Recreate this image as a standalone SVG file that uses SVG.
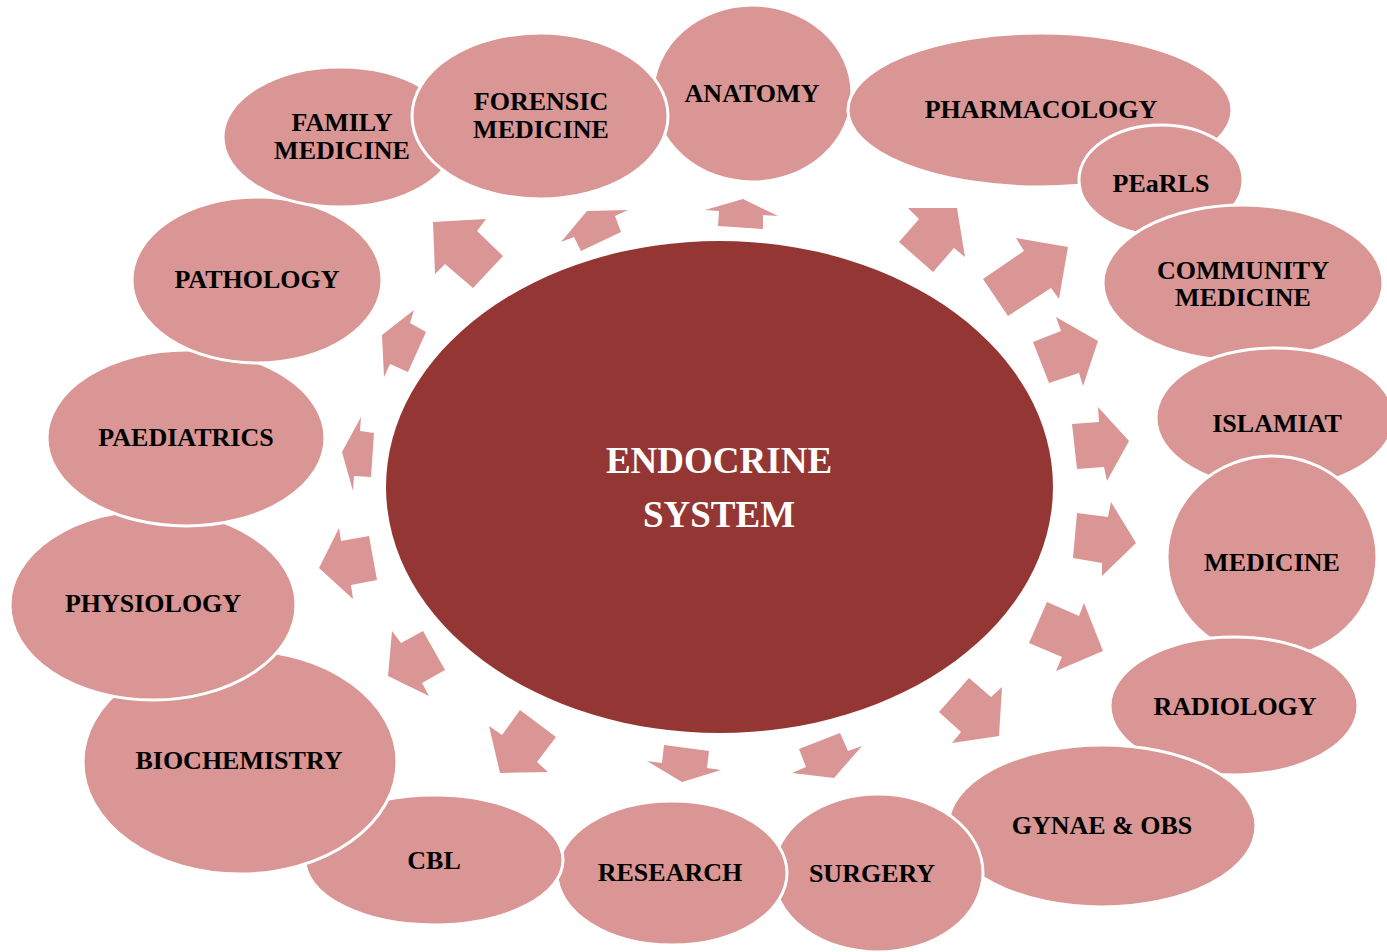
<svg xmlns="http://www.w3.org/2000/svg" width="1387" height="952" viewBox="0 0 1387 952">
  <style>
    .node { fill: #D99694; stroke: #FFFFFF; stroke-width: 3; }
    .lbl { font-family: "Liberation Serif", "Times New Roman", serif; font-weight: bold; font-size: 26px; fill: #000000; text-anchor: middle; }
    .arrow { fill: #D99694; stroke: none; }
    .hub { fill: #943634; }
    .hublbl { font-family: "Liberation Serif", "Times New Roman", serif; font-weight: bold; font-size: 37px; fill: #FFFFFF; text-anchor: middle; }
  </style>
  <rect width="1387" height="952" fill="#FFFFFF"/>

  <g id="node-anatomy"><ellipse class="node" cx="752.5" cy="93.5" rx="99.5" ry="88.5"/><text class="lbl" x="752" y="102">ANATOMY</text></g>
  <g id="node-pharmacology"><ellipse class="node" cx="1040" cy="110" rx="192" ry="77"/><text class="lbl" x="1041" y="118">PHARMACOLOGY</text></g>
  <g id="node-pearls"><ellipse class="node" cx="1161" cy="180" rx="82" ry="55"/><text class="lbl" x="1161" y="192">PEaRLS</text></g>
  <g id="node-community"><ellipse class="node" cx="1243" cy="283" rx="140" ry="78"/><text class="lbl" x="1243" y="279">COMMUNITY</text><text class="lbl" x="1243" y="306">MEDICINE</text></g>
  <g id="node-islamiat"><ellipse class="node" cx="1275" cy="418" rx="119" ry="70"/><text class="lbl" x="1277" y="432">ISLAMIAT</text></g>
  <g id="node-medicine"><ellipse class="node" cx="1272" cy="557" rx="105" ry="101"/><text class="lbl" x="1272" y="571">MEDICINE</text></g>
  <g id="node-radiology"><ellipse class="node" cx="1234" cy="706" rx="124" ry="69"/><text class="lbl" x="1235" y="715">RADIOLOGY</text></g>
  <g id="node-gynae"><ellipse class="node" cx="1102" cy="826" rx="154" ry="81"/><text class="lbl" x="1102" y="834">GYNAE &amp; OBS</text></g>
  <g id="node-surgery"><ellipse class="node" cx="878" cy="873" rx="105" ry="79"/><text class="lbl" x="872" y="882">SURGERY</text></g>
  <g id="node-research"><ellipse class="node" cx="672" cy="873" rx="115" ry="72"/><text class="lbl" x="670" y="881">RESEARCH</text></g>
  <g id="node-cbl"><ellipse class="node" cx="434" cy="860" rx="129" ry="65"/><text class="lbl" x="434" y="869">CBL</text></g>
  <g id="node-biochemistry"><ellipse class="node" cx="240" cy="762" rx="157" ry="112"/><text class="lbl" x="239" y="769">BIOCHEMISTRY</text></g>
  <g id="node-physiology"><ellipse class="node" cx="153" cy="605" rx="143" ry="95"/><text class="lbl" x="153" y="612">PHYSIOLOGY</text></g>
  <g id="node-paediatrics"><ellipse class="node" cx="186" cy="438" rx="139" ry="88"/><text class="lbl" x="186" y="446">PAEDIATRICS</text></g>
  <g id="node-pathology"><ellipse class="node" cx="257" cy="280" rx="125" ry="83"/><text class="lbl" x="257" y="288">PATHOLOGY</text></g>
  <g id="node-family"><ellipse class="node" cx="340" cy="137" rx="117" ry="70"/><text class="lbl" x="342" y="131">FAMILY</text><text class="lbl" x="342" y="159">MEDICINE</text></g>
  <g id="node-forensic"><ellipse class="node" cx="540" cy="116" rx="128" ry="83"/><text class="lbl" x="541" y="110">FORENSIC</text><text class="lbl" x="541" y="138">MEDICINE</text></g>

  <g id="connectors">
    <polygon class="arrow" points="433,222 486,219 477,231 503,256 473,288 445,264 435,274"/>
    <polygon class="arrow" points="561,242 587,211 628,210 615,216 621,232 581,251 574,237"/>
    <polygon class="arrow" points="705,210 743,199 778,216 763,215 763,229 718,226 719,211"/>
    <polygon class="arrow" points="908,208 957,208 965,257 954,248 933,272 899,242 919,219"/>
    <polygon class="arrow" points="1016,238 1068,247 1059,299 1051,288 1008,316 983,279 1024,251"/>
    <polygon class="arrow" points="1056,317 1098,341 1083,386 1079,373 1049,383 1033,342 1061,331"/>
    <polygon class="arrow" points="1098,407 1129,441 1107,481 1104,467 1077,469 1072,424 1099,422"/>
    <polygon class="arrow" points="1111,502 1136,543 1102,576 1102,563 1073,558 1077,513 1108,517"/>
    <polygon class="arrow" points="1084,603 1103,651 1056,671 1062,657 1029,643 1047,602 1079,616"/>
    <polygon class="arrow" points="1002,687 999,736 952,743 961,732 939,712 969,678 991,697"/>
    <polygon class="arrow" points="862,746 834,778 792,773 806,767 799,749 840,733 848,751"/>
    <polygon class="arrow" points="664,745 709,751 707,768 721,770 682,782 647,761 662,763"/>
    <polygon class="arrow" points="520,710 556,737 537,762 548,772 500,773 489,726 502,735"/>
    <polygon class="arrow" points="423,631 445,670 422,683 429,696 388,676 392,631 401,643"/>
    <polygon class="arrow" points="369,536 377,580 351,585 353,599 319,568 339,528 341,541"/>
    <polygon class="arrow" points="374,433 371,477 354,476 353,491 342,452 361,417 360,431"/>
    <polygon class="arrow" points="426,332 408,372 390,364 384,377 382,335 414,310 410,323"/>
  </g>

  <g id="node-endocrine">
    <ellipse class="hub" cx="719.5" cy="487" rx="333.5" ry="246"/>
    <text class="hublbl" x="719" y="473">ENDOCRINE</text>
    <text class="hublbl" x="719" y="527">SYSTEM</text>
  </g>
</svg>
